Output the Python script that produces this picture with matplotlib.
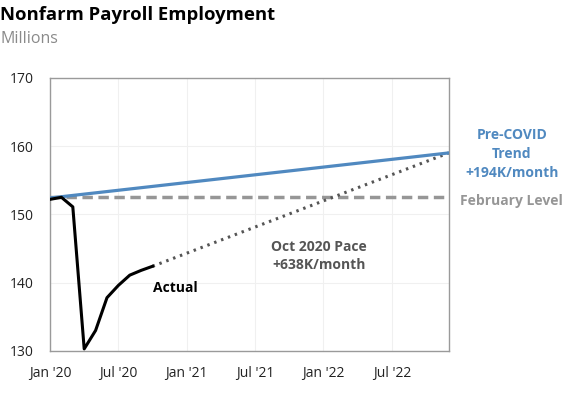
import matplotlib
matplotlib.use("Agg")
import matplotlib.pyplot as plt
import pandas as pd

plt.rcParams["font.family"] = ["Open Sans", "DejaVu Sans"]

# Actual payrolls, millions
actual_months = ["2020-01", "2020-02", "2020-03", "2020-04", "2020-05",
                 "2020-06", "2020-07", "2020-08", "2020-09", "2020-10"]
actual_vals = [152.2, 152.5, 151.1, 130.3, 133.0, 137.8, 139.6, 141.1, 141.8, 142.4]

# Pre-COVID trend (+194K/month), straight line
trend_months = ["2020-01", "2022-12"]
trend_vals = [152.4, 159.0]

# Oct 2020 pace (+638K/month)
pace_months = ["2020-10", "2022-12"]
pace_vals = [142.4, 159.0]

# February level
feb_months = ["2020-01", "2022-12"]
feb_vals = [152.5, 152.5]

tick_months = ["2020-01", "2020-07", "2021-01", "2021-07", "2022-01", "2022-07"]
tick_labels = ["Jan '20", "Jul '20", "Jan '21", "Jul '21", "Jan '22", "Jul '22"]
y_ticks = [130, 140, 150, 160, 170]

BLUE = "#5089c0"
GRAY = "#969696"


def mi(months):
    """Month index relative to Jan 2020."""
    p = pd.PeriodIndex(months, freq="M")
    return [(x.year - 2020) * 12 + x.month - 1 for x in p]


fig = plt.figure(figsize=(5.77, 3.97), dpi=100)
ax = fig.add_axes([0.0867, 0.116, 0.691, 0.688])

ax.plot(mi(feb_months), feb_vals, color=GRAY, lw=2.5, ls=(0, (3, 1.6)), zorder=2)
ax.plot(mi(trend_months), trend_vals, color=BLUE, lw=2.3, zorder=3)
ax.plot(mi(pace_months), pace_vals, color="#555555", lw=2.2, ls=(0, (0.8, 1.6)), zorder=2)
ax.plot(mi(actual_months), actual_vals, color="black", lw=2.2, zorder=4)

ax.set_xlim(0, 35)
ax.set_ylim(130, 170)
ax.set_xticks(mi(tick_months))
ax.set_xticklabels(tick_labels)
ax.set_yticks(y_ticks)
ax.tick_params(length=0, labelsize=10, colors="#222222")
ax.tick_params(axis="x", pad=11)
ax.tick_params(axis="y", pad=12)
ax.grid(True, color="#f0f0f0", lw=0.8)
ax.set_axisbelow(True)
for s in ax.spines.values():
    s.set_color("#9a9a9a")
    s.set_linewidth(1.0)

ax.text(9.0, 139.2, "Actual", fontsize=10, fontweight="bold", color="black",
        ha="left", va="center")
ax.text(23.6, 143.9, "Oct 2020 Pace\n+638K/month", fontsize=10, fontweight="bold",
        color="#555555", ha="center", va="center", linespacing=1.4)
fig.text(0.887, 0.612, "Pre-COVID\nTrend\n+194K/month", fontsize=10, fontweight="bold",
         color=BLUE, ha="center", va="center", linespacing=1.42)
fig.text(0.887, 0.494, "February Level", fontsize=10, fontweight="bold",
         color=GRAY, ha="center", va="center")

fig.text(0.0, 0.962, "Nonfarm Payroll Employment", fontsize=13.3, fontweight="bold",
         color="black", ha="left", va="center")
fig.text(0.0, 0.902, "Millions", fontsize=11.5, color="#8a8a8a", ha="left", va="center")

fig.savefig("out.png", dpi=100)
